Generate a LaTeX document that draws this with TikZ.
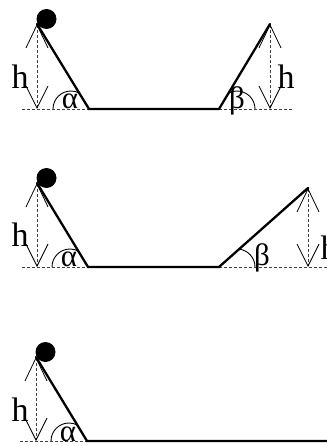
\documentclass[tikz,border=0pt]{standalone}
\usepackage{fontspec}
\setmainfont{Liberation Serif}
\usetikzlibrary{arrows.meta}
\tikzset{
  ramp/.style={line width=2.3pt, line cap=round},
  guide/.style={dashed, line width=0.8pt, dash pattern=on 3pt off 2pt, black!75},
  harrow/.style={guide, {Straight Barb[length=23pt,width=22pt,line width=0.8pt,black]}-{Straight Barb[length=22pt,width=22pt,line width=0.8pt,black]}},
  anglearc/.style={line width=0.9pt},
  lbl/.style={inner sep=0pt, font=\fontsize{34}{36}\selectfont},
  sym/.style={inner sep=0pt, font=\fontsize{31}{33}\selectfont},
  ball/.style={fill=black, draw=none}
}
\begin{document}
\begin{tikzpicture}[x=1pt,y=-1pt]
\useasboundingbox (0,0) rectangle (326,446);
% ---------- panel 1 ----------
\coordinate (t1) at (37,24);
\coordinate (b1) at (89,109);
\coordinate (c1) at (219,109);
\coordinate (r1) at (270,24);
\coordinate (g1) at (37,109);
\coordinate (q1) at (270,109);
\coordinate (dl1) at (22,109);
\coordinate (dr1) at (293,109);
\fill[ball] (46.5,19) circle (10);
\draw[guide] (dl1) -- (b1);
\draw[guide] (c1) -- (dr1);
\draw[harrow] (t1) -- (g1);
\draw[harrow] (r1) -- (q1);
\draw[ramp] (t1) -- (b1) -- (c1) -- (r1);
\draw[anglearc] (b1) ++(-36,0) arc (180:297.4:18);
\draw[anglearc] (c1) ++(36,0) arc (0:-118:18);
\node[lbl] (h1) at (20,77) {h};
\node[lbl] (h2) at (286,77) {h};
\node[sym] (a1) at (70,101) {α};
\node[sym] (be1) at (237,101) {β};
% ---------- panel 2 ----------
\coordinate (t2) at (37,183);
\coordinate (b2) at (88,267);
\coordinate (c2) at (219,267);
\coordinate (r2) at (308,188);
\coordinate (g2) at (37,267);
\coordinate (q2) at (308,267);
\coordinate (dl2) at (22,267);
\coordinate (dr2) at (330,267);
\fill[ball] (46.5,178) circle (10);
\draw[guide] (dl2) -- (b2);
\draw[guide] (c2) -- (dr2);
\draw[harrow] (t2) -- (g2);
\draw[harrow] (r2) -- (q2);
\draw[ramp] (t2) -- (b2) -- (c2) -- (r2);
\draw[anglearc] (b2) ++(-36,0) arc (180:297.4:18);
\draw[anglearc] (c2) ++(36,0) arc (0:-83.2:18);
\node[lbl] (h3) at (20,235) {h};
\node[lbl] (h4) at (329,248) {h};
\node[sym] (a2) at (69,259) {α};
\node[sym] (be2) at (262,258) {β};
% ---------- panel 3 ----------
\coordinate (t3) at (36,357);
\coordinate (b3) at (87,441);
\coordinate (e3) at (330,441);
\coordinate (g3) at (36,441);
\coordinate (dl3) at (20,441);
\fill[ball] (45.5,352) circle (10);
\draw[guide] (dl3) -- (b3);
\draw[harrow] (t3) -- (g3);
\draw[ramp] (t3) -- (b3) -- (e3);
\draw[anglearc] (b3) ++(-36,0) arc (180:297.4:18);
\node[lbl] (h5) at (20,410) {h};
\node[sym] (a3) at (68,434) {α};
\end{tikzpicture}
\end{document}
